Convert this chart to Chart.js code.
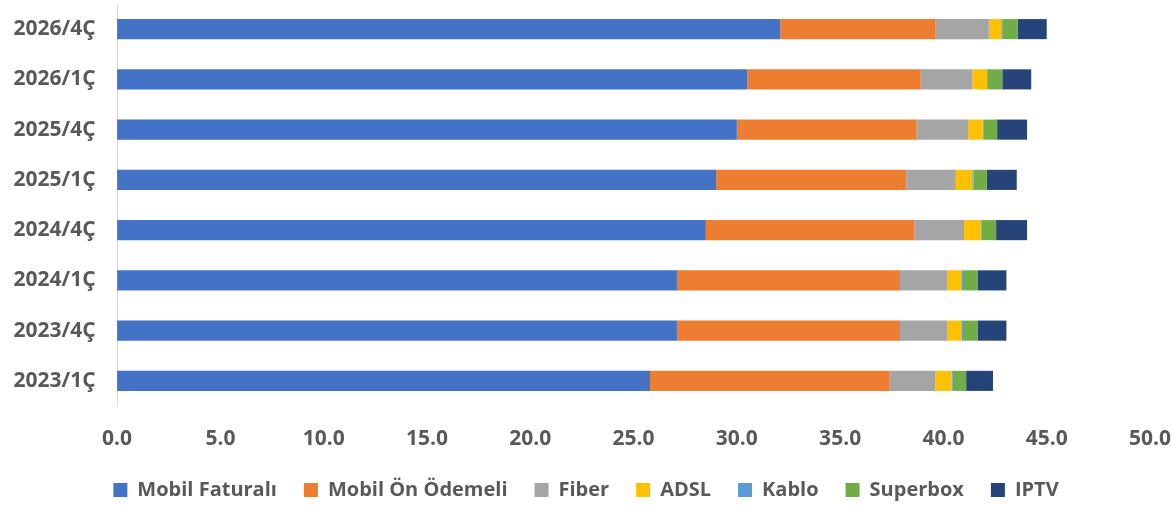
<!DOCTYPE html>
<html>
<head>
<meta charset="utf-8">
<script src="https://cdn.jsdelivr.net/npm/chart.js@4"></script>
<style>
html,body{margin:0;padding:0;background:#fff;}
#wrap{width:1172px;height:506px;position:relative;}
</style>
</head>
<body>
<div id="wrap"><canvas id="c"></canvas></div>
<script>
const categories = ['2026/4Ç','2026/1Ç','2025/4Ç','2025/1Ç','2024/4Ç','2024/1Ç','2023/4Ç','2023/1Ç'];
const mobilFaturali = [32.1, 30.5, 30.0, 29.0, 28.5, 27.1, 27.1, 25.8];
const mobilOnOdemeli = [7.5, 8.4, 8.7, 9.2, 10.1, 10.8, 10.8, 11.6];
const fiber = [2.6, 2.5, 2.5, 2.4, 2.4, 2.3, 2.3, 2.2];
const adsl = [0.6, 0.7, 0.7, 0.8, 0.8, 0.7, 0.7, 0.8];
const kablo = [0.05, 0.05, 0.05, 0.05, 0.05, 0.05, 0.05, 0.05];
const superbox = [0.75, 0.7, 0.65, 0.65, 0.7, 0.7, 0.7, 0.65];
const iptv = [1.4, 1.4, 1.45, 1.45, 1.5, 1.4, 1.4, 1.3];
const xTicks = [0,5,10,15,20,25,30,35,40,45,50];

const textColor = '#595959';
const fontFam = '"Open Sans", sans-serif';

const series = [
  ['Mobil Faturalı', mobilFaturali, '#4472C4'],
  ['Mobil Ön Ödemeli', mobilOnOdemeli, '#ED7D31'],
  ['Fiber', fiber, '#A5A5A5'],
  ['ADSL', adsl, '#FFC000'],
  ['Kablo', kablo, '#5B9BD5'],
  ['Superbox', superbox, '#70AD47'],
  ['IPTV', iptv, '#264478']
];

new Chart(document.getElementById('c'), {
  type: 'bar',
  data: {
    labels: categories,
    datasets: series.map(s => ({
      label: s[0], data: s[1], backgroundColor: s[2], borderWidth: 0,
      barPercentage: 0.4, categoryPercentage: 1.0
    }))
  },
  options: {
    indexAxis: 'y',
    responsive: true,
    maintainAspectRatio: false,
    animation: false,
    layout: { padding: { left: 0, right: 0, top: 4, bottom: -4 } },
    scales: {
      x: {
        stacked: true, min: 0, max: 50,
        afterBuildTicks: ax => { ax.ticks = xTicks.map(v => ({ value: v })); },
        afterFit: s => { s.paddingLeft = 0; s.paddingRight = 22; s.height = 47; },
        grid: { display: false },
        border: { display: false },
        ticks: {
          color: textColor, padding: 12,
          font: { family: fontFam, size: 21, weight: 'bold' },
          callback: v => Number(v).toFixed(1)
        }
      },
      y: {
        stacked: true,
        afterFit: s => { s.paddingTop = 0; s.paddingBottom = 0; },
        grid: { display: false },
        border: { display: true, color: '#D9D9D9', width: 1 },
        ticks: {
          color: textColor, padding: 13.5,
          font: { family: fontFam, size: 21, weight: 'bold' }
        }
      }
    },
    plugins: {
      legend: {
        position: 'bottom',
        labels: {
          color: textColor, boxWidth: 14, boxHeight: 14, padding: 27,
          font: { family: fontFam, size: 20, weight: 'bold' }
        }
      },
      tooltip: { enabled: false }
    }
  }
});
</script>
</body>
</html>
